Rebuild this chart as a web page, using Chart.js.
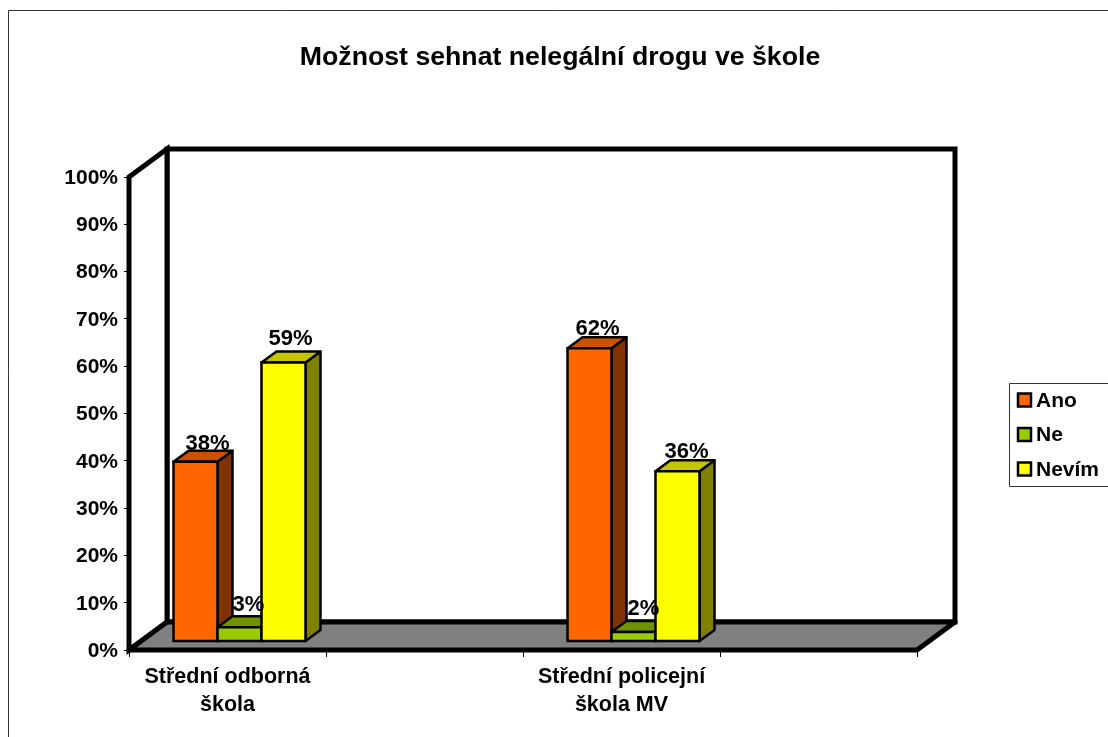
<!DOCTYPE html>
<html lang="cs">
<head>
<meta charset="utf-8">
<title>Možnost sehnat nelegální drogu ve škole</title>
<style>
  html, body { margin: 0; padding: 0; background: #fff; }
  canvas { display: block; }
</style>
</head>
<body>
<canvas id="chart" width="1108" height="737"></canvas>
<script src="https://cdn.jsdelivr.net/npm/chart.js@4/dist/chart.umd.min.js"></script>
<script>
const chartTitle = 'Možnost sehnat nelegální drogu ve škole';
// Excel left blank categories between the two schools
const categories = [['Střední odborná', 'škola'], '', ['Střední policejní', 'škola MV'], ''];
const seriesNames = ['Ano', 'Ne', 'Nevím'];
const ano = [38, null, 62, null];
const ne = [3, null, 2, null];
const nevim = [59, null, 36, null];
const yTicks = [0, 10, 20, 30, 40, 50, 60, 70, 80, 90, 100];

const FONT = 'Arial, "Liberation Sans", sans-serif';

// 3D look: offset of the back wall, of the bar fronts and of the bar depth
const wall = { dx: 38, dy: -28 };
const barShift = { dx: 12, dy: -8.5 };
const barDepth = { dx: 15, dy: -11 };

const sideColors = ['#803300', '#4d6600', '#808000'];
const topColors = ['#cc5200', '#6f9400', '#c4c400'];

// the value labels in the original are not evenly placed, per series / category
const labelNudge = [
  [{ x: 12, y: -4 }, null, { x: 8, y: -6 }, null],
  [{ x: 9, y: -9 }, null, { x: 10, y: -10 }, null],
  [{ x: 7, y: -10 }, null, { x: 9, y: -6 }, null]
];

function poly(ctx, pts, fill, lineWidth, join) {
  ctx.beginPath();
  pts.forEach((p, i) => (i ? ctx.lineTo(p[0], p[1]) : ctx.moveTo(p[0], p[1])));
  ctx.closePath();
  if (fill) {
    ctx.fillStyle = fill;
    ctx.fill();
  }
  ctx.lineWidth = lineWidth;
  ctx.strokeStyle = '#000';
  ctx.lineJoin = join || 'miter';
  ctx.stroke();
}

// walls, floor and outer frame
const backdrop = {
  id: 'backdrop',
  afterLayout(chart) {
    // title is centred on the picture frame, not on the plot
    chart.titleBlock.left = 0;
    chart.titleBlock.right = 1120;
  },
  beforeDraw(chart) {
    const ctx = chart.ctx;
    const { left, right, top, bottom } = chart.chartArea;
    const { dx, dy } = wall;
    ctx.save();
    ctx.strokeStyle = '#333';
    ctx.lineWidth = 1;
    ctx.beginPath();
    ctx.moveTo(8.5, 737);
    ctx.lineTo(8.5, 10.5);
    ctx.lineTo(1108, 10.5);
    ctx.stroke();
    poly(ctx, [[left + dx, top + dy], [right + dx, top + dy], [right + dx, bottom + dy], [left + dx, bottom + dy]], '#fff', 5);
    poly(ctx, [[left, top], [left + dx, top + dy], [left + dx, bottom + dy], [left, bottom]], '#fff', 5);
    poly(ctx, [[left, bottom], [right, bottom], [right + dx, bottom + dy], [left + dx, bottom + dy]], '#808080', 5, 'round');
    ctx.restore();
  }
};

// library draws last dataset first, the 3D bars need Ano first so the layers overlap right
const bars3d = {
  id: 'bars3d',
  beforeDatasetsDraw(chart) {
    const ctx = chart.ctx;
    chart.data.datasets.forEach((ds, i) => {
      const meta = chart.getDatasetMeta(i);
      ctx.save();
      ctx.translate(barShift.dx, barShift.dy);
      meta.data.forEach((bar, k) => {
        if (ds.data[k] === null) return;
        const l = bar.x - bar.width / 2;
        const r = bar.x + bar.width / 2;
        const { dx, dy } = barDepth;
        poly(ctx, [[r, bar.y], [r + dx, bar.y + dy], [r + dx, bar.base + dy], [r, bar.base]], sideColors[i], 2.5, 'round');
        poly(ctx, [[l, bar.y], [l + dx, bar.y + dy], [r + dx, bar.y + dy], [r, bar.y]], topColors[i], 2.5, 'round');
      });
      meta.controller.draw();
      // front outline centred on the bar edge like the side faces
      meta.data.forEach((bar, k) => {
        if (ds.data[k] === null) return;
        const l = bar.x - bar.width / 2;
        const r = bar.x + bar.width / 2;
        poly(ctx, [[l, bar.y], [r, bar.y], [r, bar.base], [l, bar.base]], null, 2.5);
      });
      ctx.restore();
    });
    return false;
  },
  afterDraw(chart) {
    const ctx = chart.ctx;
    ctx.save();
    ctx.font = 'bold 22px ' + FONT;
    ctx.fillStyle = '#000';
    ctx.textAlign = 'center';
    ctx.textBaseline = 'middle';
    chart.data.datasets.forEach((ds, i) => {
      chart.getDatasetMeta(i).data.forEach((bar, k) => {
        if (ds.data[k] === null) return;
        const n = labelNudge[i][k];
        ctx.fillText(ds.data[k] + '%', bar.x + barShift.dx + n.x, bar.y + barShift.dy - 13.5 + n.y);
      });
    });
    ctx.restore();
  }
};

// Excel style legend box running off the right edge
const legendBox = {
  id: 'legendBox',
  afterDraw(chart) {
    const ctx = chart.ctx;
    ctx.save();
    ctx.strokeStyle = '#333';
    ctx.lineWidth = 1;
    ctx.beginPath();
    ctx.moveTo(1108, 383.5);
    ctx.lineTo(1009.5, 383.5);
    ctx.lineTo(1009.5, 486.5);
    ctx.lineTo(1108, 486.5);
    ctx.stroke();
    ctx.font = 'bold 21px ' + FONT;
    ctx.textBaseline = 'middle';
    chart.data.datasets.forEach((ds, i) => {
      const y = 400 + i * 34.5;
      ctx.fillStyle = ds.backgroundColor;
      ctx.fillRect(1018, y - 6.5, 13, 13);
      ctx.strokeStyle = '#000';
      ctx.lineWidth = 2.5;
      ctx.strokeRect(1018, y - 6.5, 13, 13);
      ctx.fillStyle = '#000';
      ctx.fillText(ds.label, 1036, y + 1);
    });
    ctx.restore();
  }
};

function series(idx, values, color) {
  return {
    label: seriesNames[idx],
    data: values,
    backgroundColor: color,
    borderWidth: 0,
    clip: false
  };
}

new Chart(document.getElementById('chart'), {
  type: 'bar',
  data: {
    labels: categories,
    datasets: [
      series(0, ano, '#ff6600'),
      series(1, ne, '#99cc00'),
      series(2, nevim, '#ffff00')
    ]
  },
  plugins: [backdrop, bars3d, legendBox],
  options: {
    responsive: false,
    animation: false,
    events: [],
    layout: { padding: { left: 0, top: 0, bottom: 0, right: 191 } },
    categoryPercentage: 0.67,
    barPercentage: 1,
    scales: {
      x: {
        afterFit(s) { s.height = 87; },
        grid: { drawOnChartArea: false, color: '#000', lineWidth: 1, tickLength: 7 },
        border: { display: false },
        ticks: {
          autoSkip: false,
          maxRotation: 0,
          color: '#000',
          padding: 6,
          font: { family: FONT, size: 21.5, weight: 'bold', lineHeight: 1.3 }
        }
      },
      y: {
        min: 0,
        max: 100,
        afterFit(s) { s.width = 129; },
        afterBuildTicks(s) { s.ticks = yTicks.map(v => ({ value: v })); },
        grid: { drawOnChartArea: false, color: '#000', lineWidth: 1, tickLength: 5 },
        border: { display: false },
        ticks: {
          color: '#000',
          padding: 6,
          labelOffset: 1,
          callback: v => v + '%',
          font: { family: FONT, size: 21, weight: 'bold' }
        }
      }
    },
    plugins: {
      title: {
        display: true,
        text: chartTitle,
        color: '#000',
        font: { family: FONT, size: 26.7, weight: 'bold', lineHeight: 1.2 },
        padding: { top: 42, bottom: 103 }
      },
      legend: { display: false },
      tooltip: { enabled: false }
    }
  }
});
</script>
</body>
</html>
